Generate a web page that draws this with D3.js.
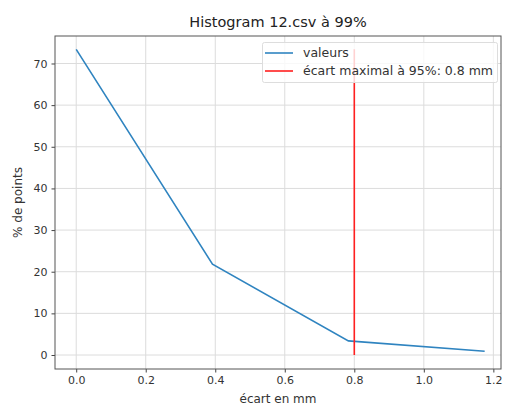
<!DOCTYPE html>
<html>
<head>
<meta charset="utf-8">
<script src="https://cdn.jsdelivr.net/npm/d3@7"></script>
<style>
  body { margin: 0; background: #fff; }
  svg { font-family: "DejaVu Sans", sans-serif; }
</style>
</head>
<body>
<div id="chart"></div>
<script>
// histogram of deviations (% of points per bin)
const ecart = [0, 0.392, 0.783, 1.175];
const pourcent = [73.4, 21.8, 3.4, 0.9];
const seuil = 0.8;              // écart maximal à 95%
const xTicks = [0, 0.2, 0.4, 0.6, 0.8, 1.0, 1.2];
const yTicks = [0, 10, 20, 30, 40, 50, 60, 70];

const width = 505, height = 406;
const margin = {top: 36, right: 4, bottom: 37, left: 55};

const svg = d3.select("#chart")
  .append("svg")
  .attr("width", width)
  .attr("height", height);

const x = d3.scaleLinear()
  .domain([-0.061, 1.222])
  .range([margin.left, width - margin.right]);
const y = d3.scaleLinear()
  .domain([-3.36, 76.6])
  .range([height - margin.bottom, margin.top]);

// grid
svg.append("g")
  .selectAll("line")
  .data(xTicks)
  .join("line")
    .attr("x1", d => x(d)).attr("x2", d => x(d))
    .attr("y1", margin.top).attr("y2", height - margin.bottom)
    .attr("stroke", "#dcdcdc").attr("stroke-width", 1);
svg.append("g")
  .selectAll("line")
  .data(yTicks)
  .join("line")
    .attr("x1", margin.left).attr("x2", width - margin.right)
    .attr("y1", d => y(d)).attr("y2", d => y(d))
    .attr("stroke", "#dcdcdc").attr("stroke-width", 1);

// axes
const xAxis = svg.append("g")
  .attr("transform", `translate(0,${height - margin.bottom})`)
  .call(d3.axisBottom(x).tickValues(xTicks).tickFormat(d3.format(".1f")).tickSize(3.5).tickPadding(4));
const yAxis = svg.append("g")
  .attr("transform", `translate(${margin.left},0)`)
  .call(d3.axisLeft(y).tickValues(yTicks).tickSize(3.5).tickPadding(4));
[xAxis, yAxis].forEach(g => {
  g.select(".domain").remove();
  g.selectAll("text").attr("font-size", "11px").attr("fill", "#333").attr("font-family", "DejaVu Sans, sans-serif");
  g.selectAll("line").attr("stroke", "#444");
});

// frame
svg.append("rect")
  .attr("x", margin.left).attr("y", margin.top)
  .attr("width", width - margin.left - margin.right)
  .attr("height", height - margin.top - margin.bottom)
  .attr("fill", "none").attr("stroke", "#555").attr("stroke-width", 1);

// series
const line = d3.line().x((d, i) => x(ecart[i])).y(d => y(d));
svg.append("path")
  .datum(pourcent)
  .attr("fill", "none")
  .attr("stroke", "#2f84c0")
  .attr("stroke-width", 1.6)
  .attr("d", line);

// threshold line
svg.append("line")
  .attr("x1", x(seuil)).attr("x2", x(seuil))
  .attr("y1", y(0)).attr("y2", y(d3.max(pourcent)))
  .attr("stroke", "#ff2020").attr("stroke-width", 1.6);

// title and labels
svg.append("text")
  .attr("x", (margin.left + width - margin.right) / 2)
  .attr("y", 27)
  .attr("text-anchor", "middle")
  .attr("font-size", "14.5px")
  .attr("fill", "#222")
  .text("Histogram 12.csv à 99%");
svg.append("text")
  .attr("x", (margin.left + width - margin.right) / 2)
  .attr("y", 403)
  .attr("text-anchor", "middle")
  .attr("font-size", "12px")
  .attr("fill", "#333")
  .text("écart en mm");
svg.append("text")
  .attr("transform", `translate(22,${(margin.top + height - margin.bottom) / 2}) rotate(-90)`)
  .attr("text-anchor", "middle")
  .attr("font-size", "12px")
  .attr("fill", "#333")
  .text("% de points");

// legend
const legendItems = [
  {name: "valeurs", color: "#2f84c0"},
  {name: "écart maximal à 95%: 0.8 mm", color: "#ff2020"}
];
svg.append("rect")
  .attr("x", 262.5).attr("y", 42.5)
  .attr("width", 235).attr("height", 40)
  .attr("rx", 2)
  .attr("fill", "white").attr("fill-opacity", 0.8)
  .attr("stroke", "#ddd");
const leg = svg.append("g")
  .selectAll("g")
  .data(legendItems)
  .join("g")
    .attr("transform", (d, i) => `translate(265,${53 + i * 18})`);
leg.append("line")
  .attr("x1", 0).attr("x2", 28)
  .attr("stroke", d => d.color).attr("stroke-width", 1.6);
leg.append("text")
  .attr("x", 38).attr("y", 0)
  .attr("dy", "0.35em")
  .attr("font-size", "12.5px")
  .attr("fill", "#333")
  .text(d => d.name);
</script>
</body>
</html>
